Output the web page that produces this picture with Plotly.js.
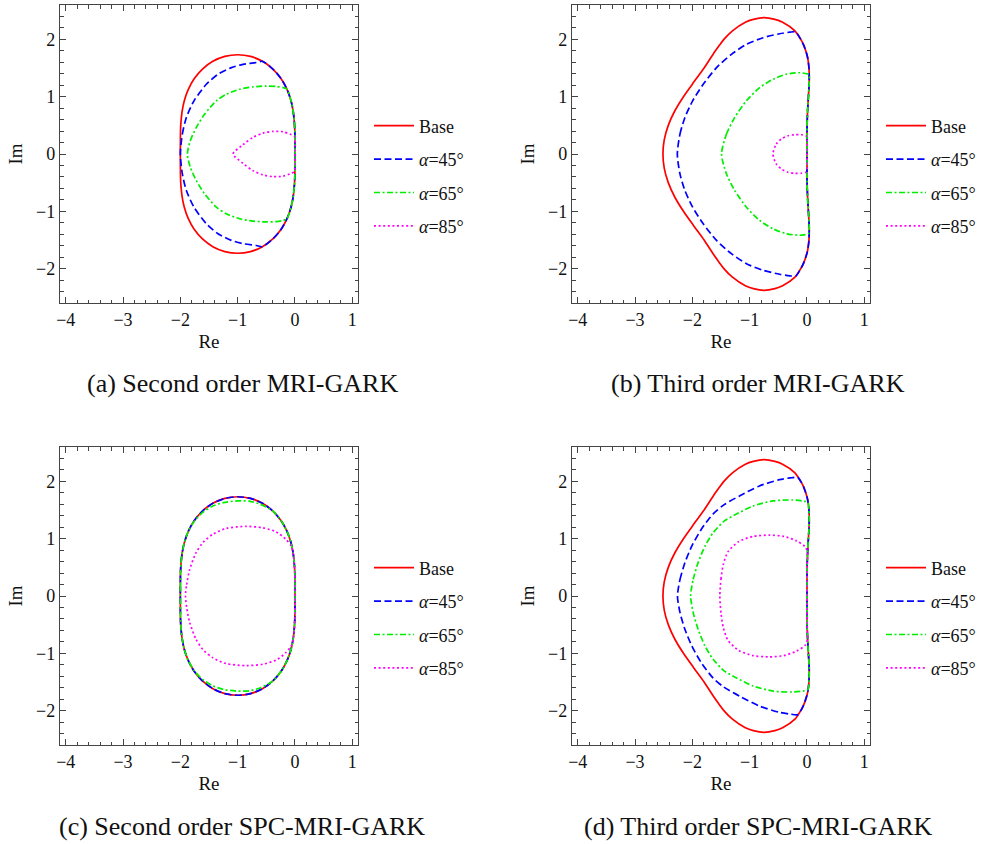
<!DOCTYPE html>
<html>
<head>
<meta charset="utf-8">
<script src="https://cdn.plot.ly/plotly-3.0.1.min.js"></script>
<style>html,body{margin:0;padding:0;background:#fff;}#chart{width:983px;height:844px;}</style>
</head>
<body>
<div id="chart"></div>
<script>
// ---------- data ----------
const seriesNames = ['Base', '<i>α</i>=45°', '<i>α</i>=65°', '<i>α</i>=85°'];
const captions = ['(a) Second order MRI-GARK', '(b) Third order MRI-GARK', '(c) Second order SPC-MRI-GARK', '(d) Third order SPC-MRI-GARK'];
const xTickStart = -4, yTickStart = -2;

// second-order base boundary (panels a and c)
const base2_x = [0, 0, -0.001, -0.003, -0.012, -0.031, -0.069, -0.137, -0.241, -0.386, -0.567, -0.776, -1, -1.224, -1.433, -1.614, -1.759, -1.863, -1.931, -1.969, -1.988, -1.997, -1.999, -2, -2,
  -2, -1.999, -1.997, -1.988, -1.969, -1.931, -1.863, -1.759, -1.614, -1.433, -1.224, -1, -0.776, -0.567, -0.386, -0.241, -0.137, -0.069, -0.031, -0.012, -0.003, -0.001, 0, 0];
const base2_y = [0, 0.132, 0.268, 0.413, 0.571, 0.744, 0.931, 1.125, 1.314, 1.483, 1.617, 1.703, 1.732, 1.703, 1.617, 1.483, 1.314, 1.125, 0.931, 0.744, 0.571, 0.413, 0.268, 0.132, 0,
  -0.132, -0.268, -0.413, -0.571, -0.744, -0.931, -1.125, -1.314, -1.483, -1.617, -1.703, -1.732, -1.703, -1.617, -1.483, -1.314, -1.125, -0.931, -0.744, -0.571, -0.413, -0.268, -0.132, 0];

// third-order base boundary (panels b and d)
const base3_x = [0, 0.001, 0.002, 0.011, 0.025, 0.039, 0.035, 0.017, 0, -0.057, -0.108, -0.21, -0.425, -0.56, -0.75, -0.935, -1.075, -1.3, -1.45, -1.525, -1.632, -1.795, -1.978, -2.155, -2.307, -2.42, -2.49, -2.513,
  -2.49, -2.42, -2.307, -2.155, -1.978, -1.795, -1.632, -1.525, -1.45, -1.3, -1.075, -0.935, -0.75, -0.56, -0.425, -0.21, -0.108, -0.057, 0, 0.017, 0.035, 0.039, 0.025, 0.011, 0.002, 0.001, 0];
const base3_y = [0, 0.25, 0.5, 0.75, 1.0, 1.25, 1.5, 1.65, 1.732, 1.9, 2.0, 2.15, 2.3, 2.35, 2.38, 2.35, 2.3, 2.15, 2.0, 1.9, 1.75, 1.5, 1.25, 1.0, 0.75, 0.5, 0.25, 0,
  -0.25, -0.5, -0.75, -1.0, -1.25, -1.5, -1.75, -1.9, -2.0, -2.15, -2.3, -2.35, -2.38, -2.35, -2.3, -2.15, -2.0, -1.9, -1.732, -1.65, -1.5, -1.25, -1.0, -0.75, -0.5, -0.25, 0];

// (a) Second order MRI-GARK
const a45_x = [-2, -1.965, -1.895, -1.762, -1.547, -1.343, -1.11, -0.907, -0.674, -0.567, -0.386, -0.241, -0.137, -0.069, -0.031, -0.012, -0.003, -0.001, 0, 0, 0, -0.001, -0.003, -0.012, -0.031, -0.069, -0.137, -0.241, -0.386, -0.567, -0.674, -0.907, -1.11, -1.343, -1.547, -1.762, -1.895, -1.965, -2];
const a45_y = [0, 0.348, 0.638, 0.928, 1.217, 1.391, 1.507, 1.565, 1.597, 1.617, 1.483, 1.314, 1.125, 0.931, 0.744, 0.571, 0.413, 0.268, 0.132, 0, -0.132, -0.268, -0.413, -0.571, -0.744, -0.931, -1.125, -1.314, -1.483, -1.617, -1.597, -1.565, -1.507, -1.391, -1.217, -0.928, -0.638, -0.348, 0];
const a65_x = [-1.878, -1.826, -1.721, -1.576, -1.372, -1.198, -0.965, -0.733, -0.5, -0.33, -0.2, -0.137, -0.069, -0.031, -0.012, -0.003, -0.001, 0, 0, 0, -0.001, -0.003, -0.012, -0.031, -0.069, -0.137, -0.2, -0.33, -0.5, -0.733, -0.965, -1.198, -1.372, -1.576, -1.721, -1.826, -1.878];
const a65_y = [0, 0.232, 0.464, 0.696, 0.928, 1.043, 1.13, 1.171, 1.186, 1.18, 1.158, 1.125, 0.931, 0.744, 0.571, 0.413, 0.268, 0.132, 0, -0.132, -0.268, -0.413, -0.571, -0.744, -0.931, -1.125, -1.158, -1.18, -1.186, -1.171, -1.13, -1.043, -0.928, -0.696, -0.464, -0.232, 0];
const a85_x = [-1.081, -0.907, -0.733, -0.558, -0.384, -0.209, -0.064, -0.005, 0, 0, -0.005, -0.064, -0.209, -0.384, -0.558, -0.733, -0.907, -1.081];
const a85_y = [0, 0.162, 0.29, 0.365, 0.394, 0.388, 0.336, 0.3, 0.15, -0.15, -0.3, -0.336, -0.388, -0.394, -0.365, -0.29, -0.162, 0];

// (b) Third order MRI-GARK
const b45_x = [-2.262, -2.216, -2.129, -1.995, -1.81, -1.578, -1.318, -1.057, -0.767, -0.477, -0.3, -0.195, -0.108, -0.057, 0, 0.017, 0.035, 0.039, 0.025, 0.011, 0.002, 0.001, 0, 0.001, 0.002, 0.011, 0.025, 0.039, 0.035, 0.017, 0, -0.057, -0.108, -0.195, -0.3, -0.477, -0.767, -1.057, -1.318, -1.578, -1.81, -1.995, -2.129, -2.216, -2.262];
const b45_y = [0, 0.348, 0.638, 0.928, 1.217, 1.507, 1.739, 1.913, 2.029, 2.099, 2.125, 2.13, 2.0, 1.9, 1.732, 1.65, 1.5, 1.25, 1.0, 0.75, 0.5, 0.25, 0, -0.25, -0.5, -0.75, -1.0, -1.25, -1.5, -1.65, -1.732, -1.9, -2.0, -2.13, -2.125, -2.099, -2.029, -1.913, -1.739, -1.507, -1.217, -0.928, -0.638, -0.348, 0];
const b65_x = [-1.491, -1.404, -1.26, -1.057, -0.825, -0.593, -0.362, -0.13, 0, 0.037, 0.039, 0.025, 0.011, 0.002, 0.001, 0, 0.001, 0.002, 0.011, 0.025, 0.039, 0.037, 0, -0.13, -0.362, -0.593, -0.825, -1.057, -1.26, -1.404, -1.491];
const b65_y = [0, 0.348, 0.638, 0.928, 1.159, 1.304, 1.391, 1.418, 1.4, 1.38, 1.25, 1.0, 0.75, 0.5, 0.25, 0, -0.25, -0.5, -0.75, -1.0, -1.25, -1.38, -1.4, -1.418, -1.391, -1.304, -1.159, -0.928, -0.638, -0.348, 0];
const b85_x = [-0.594, -0.535, -0.448, -0.333, -0.217, -0.101, -0.014, 0.001, 0, 0.001, -0.014, -0.101, -0.217, -0.333, -0.448, -0.535, -0.594];
const b85_y = [0, 0.174, 0.261, 0.318, 0.336, 0.336, 0.318, 0.25, 0, -0.25, -0.318, -0.336, -0.336, -0.318, -0.261, -0.174, 0];

// (c) Second order SPC-MRI-GARK (alpha=45 coincides with the base curve)
const c45_x = base2_x;
const c45_y = base2_y;
const c65_x = [-2, -2, -1.999, -1.997, -1.988, -1.969, -1.931, -1.863, -1.76, -1.62, -1.45, -1.25, -1.0, -0.8, -0.6, -0.45, -0.386, -0.241, -0.137, -0.069, -0.031, -0.012, -0.003, -0.001, 0, 0, 0, -0.001, -0.003, -0.012, -0.031, -0.069, -0.137, -0.241, -0.386, -0.45, -0.6, -0.8, -1.0, -1.25, -1.45, -1.62, -1.76, -1.863, -1.931, -1.969, -1.988, -1.997, -1.999, -2, -2];
const c65_y = [0, 0.132, 0.268, 0.413, 0.571, 0.744, 0.931, 1.125, 1.3, 1.45, 1.56, 1.63, 1.66, 1.655, 1.6, 1.525, 1.483, 1.314, 1.125, 0.931, 0.744, 0.571, 0.413, 0.268, 0.132, 0, -0.132, -0.268, -0.413, -0.571, -0.744, -0.931, -1.125, -1.314, -1.483, -1.525, -1.6, -1.655, -1.66, -1.63, -1.56, -1.45, -1.3, -1.125, -0.931, -0.744, -0.571, -0.413, -0.268, -0.132, 0];
const c85_x = [-1.91, -1.89, -1.84, -1.73, -1.6, -1.43, -1.2, -0.85, -0.56, -0.33, -0.16, -0.065, -0.031, -0.012, -0.003, -0.001, 0, 0, 0, -0.001, -0.003, -0.012, -0.031, -0.065, -0.16, -0.33, -0.56, -0.85, -1.2, -1.43, -1.6, -1.73, -1.84, -1.89, -1.91];
const c85_y = [0, 0.2, 0.45, 0.75, 0.94, 1.08, 1.18, 1.215, 1.19, 1.12, 0.99, 0.87, 0.744, 0.571, 0.413, 0.268, 0.132, 0, -0.132, -0.268, -0.413, -0.571, -0.744, -0.87, -0.99, -1.12, -1.19, -1.215, -1.18, -1.08, -0.94, -0.75, -0.45, -0.2, 0];

// (d) Third order SPC-MRI-GARK
const d45_x = [-2.26, -2.215, -2.13, -2.01, -1.84, -1.64, -1.45, -1.17, -0.83, -0.48, -0.3, -0.16, -0.108, -0.057, 0, 0.017, 0.035, 0.039, 0.025, 0.011, 0.002, 0.001, 0, 0.001, 0.002, 0.011, 0.025, 0.039, 0.035, 0.017, 0, -0.057, -0.108, -0.16, -0.3, -0.48, -0.83, -1.17, -1.45, -1.64, -1.84, -2.01, -2.13, -2.215, -2.26];
const d45_y = [0, 0.29, 0.58, 0.87, 1.17, 1.43, 1.59, 1.75, 1.92, 2.03, 2.06, 2.07, 2.0, 1.9, 1.732, 1.65, 1.5, 1.25, 1.0, 0.75, 0.5, 0.25, 0, -0.25, -0.5, -0.75, -1.0, -1.25, -1.5, -1.65, -1.732, -1.9, -2.0, -2.07, -2.06, -2.03, -1.92, -1.75, -1.59, -1.43, -1.17, -0.87, -0.58, -0.29, 0];
const d65_x = [-2.03, -1.985, -1.9, -1.78, -1.64, -1.44, -1.23, -0.94, -0.59, -0.25, -0.05, 0.015, 0.035, 0.039, 0.025, 0.011, 0.002, 0.001, 0, 0.001, 0.002, 0.011, 0.025, 0.039, 0.035, 0.015, -0.05, -0.25, -0.59, -0.94, -1.23, -1.44, -1.64, -1.78, -1.9, -1.985, -2.03];
const d65_y = [0, 0.29, 0.58, 0.87, 1.1, 1.31, 1.43, 1.57, 1.66, 1.675, 1.655, 1.635, 1.5, 1.25, 1.0, 0.75, 0.5, 0.25, 0, -0.25, -0.5, -0.75, -1.0, -1.25, -1.5, -1.635, -1.655, -1.675, -1.66, -1.57, -1.43, -1.31, -1.1, -0.87, -0.58, -0.29, 0];
const d85_x = [-1.52, -1.5, -1.46, -1.38, -1.19, -0.94, -0.66, -0.4, -0.18, -0.03, 0.011, 0.002, 0.001, 0, 0.001, 0.002, 0.011, -0.03, -0.18, -0.4, -0.66, -0.94, -1.19, -1.38, -1.46, -1.5, -1.52];
const d85_y = [0, 0.3, 0.55, 0.77, 0.95, 1.04, 1.062, 1.04, 0.96, 0.86, 0.75, 0.5, 0.25, 0, -0.25, -0.5, -0.75, -0.86, -0.96, -1.04, -1.062, -1.04, -0.95, -0.77, -0.55, -0.3, 0];

// ---------- styling ----------
const W = 983, H = 844;
const FONT = 'Liberation Serif, Times New Roman, serif';
const styles = [
  {color: '#ff0000', dash: 'solid'},
  {color: '#0000ff', dash: '7px,3.5px'},
  {color: '#00ee00', dash: '6px,2.5px,2px,2.5px'},
  {color: '#ff00ff', dash: '2px,2.6px'}
];
const panels = [
  {xs: [base2_x, a45_x, a65_x, a85_x], ys: [base2_y, a45_y, a65_y, a85_y], left: 60, top: 5},
  {xs: [base3_x, b45_x, b65_x, b85_x], ys: [base3_y, b45_y, b65_y, b85_y], left: 572, top: 5},
  {xs: [base2_x, c45_x, c65_x, c85_x], ys: [base2_y, c45_y, c65_y, c85_y], left: 60, top: 447},
  {xs: [base3_x, d45_x, d65_x, d85_x], ys: [base3_y, d45_y, d65_y, d85_y], left: 572, top: 447}
];
const SIZE = 298;

const traces = [];
const layout = {
  width: W, height: H,
  margin: {l: 0, r: 0, t: 0, b: 0, autoexpand: false},
  paper_bgcolor: '#fff', plot_bgcolor: '#fff',
  showlegend: true,
  annotations: []
};

panels.forEach((p, i) => {
  const n = i + 1;
  const xa = 'x' + (n === 1 ? '' : n), ya = 'y' + (n === 1 ? '' : n);
  const legName = 'legend' + (n === 1 ? '' : n);
  p.xs.forEach((xv, k) => {
    traces.push({
      type: 'scatter', mode: 'lines', x: xv, y: p.ys[k],
      xaxis: xa, yaxis: ya, name: seriesNames[k],
      legend: legName, legendgroup: 'g' + n + k,
      line: {color: styles[k].color, dash: styles[k].dash, width: 1.7, shape: 'spline', smoothing: 0.7},
      hoverinfo: 'skip'
    });
  });
  const common = {
    ticks: 'inside', ticklen: 6, tickwidth: 1, tickcolor: '#444',
    showline: true, linecolor: '#444', linewidth: 1.2, mirror: 'ticks',
    showgrid: false, zeroline: false, automargin: false, fixedrange: true,
    tickmode: 'linear', dtick: 1,
    minor: {ticks: 'inside', ticklen: 3.5, tickwidth: 1, tickcolor: '#444', dtick: 0.2, tick0: 0, showgrid: false},
    tickfont: {family: FONT, size: 18, color: '#111'}
  };
  layout['xaxis' + (n === 1 ? '' : n)] = Object.assign({}, common, {
    domain: [p.left / W, (p.left + SIZE) / W], range: [-4.1, 1.1], tick0: xTickStart,
    anchor: ya, title: {text: 'Re', font: {family: FONT, size: 19, color: '#111'}, standoff: 6}
  });
  layout['yaxis' + (n === 1 ? '' : n)] = Object.assign({}, common, {
    domain: [1 - (p.top + SIZE) / H, 1 - p.top / H], range: [-2.6, 2.6], tick0: yTickStart,
    anchor: xa, title: {text: 'Im', font: {family: FONT, size: 19, color: '#111'}, standoff: 8}
  });
  layout[legName] = {
    x: (p.left + 309) / W, xanchor: 'left',
    y: 1 - (p.top + 171) / H, yanchor: 'middle',
    bgcolor: 'rgba(0,0,0,0)', borderwidth: 0,
    font: {family: FONT, size: 18, color: '#111'},
    tracegroupgap: 7, itemwidth: 40, traceorder: 'grouped'
  };
  layout.annotations.push({
    text: captions[i], xref: 'paper', yref: 'paper', showarrow: false,
    x: (i % 2 === 0 ? 242 : 758) / W, y: 1 - (i < 2 ? 383 : 826) / H,
    xanchor: 'center', yanchor: 'middle',
    font: {family: FONT, size: 26, color: '#111'}
  });
});

Plotly.newPlot('chart', traces, layout, {displayModeBar: false, staticPlot: true});
</script>
</body>
</html>
